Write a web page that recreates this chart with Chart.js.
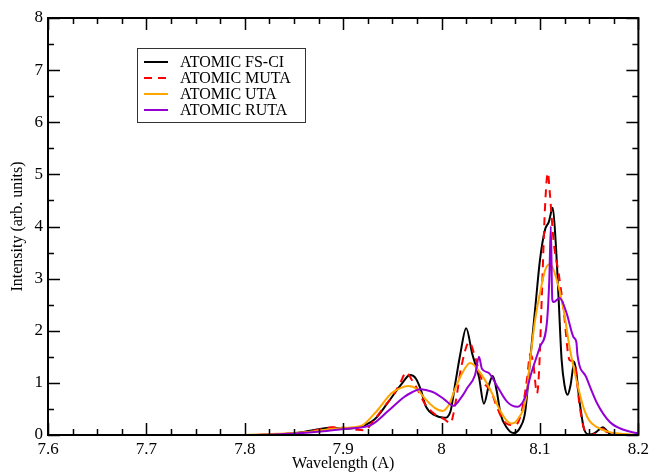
<!DOCTYPE html>
<html>
<head>
<meta charset="utf-8">
<script src="https://cdn.jsdelivr.net/npm/chart.js@4"></script>
<style>
  body { margin: 0; background: #fff; }
</style>
</head>
<body>
<canvas id="spectrumChart" width="653" height="472"></canvas>
<script>
// wavelength (A) / intensity pairs, one pair of arrays per curve
const fsciWl = [7.6, 7.8, 7.84, 7.86, 7.875, 7.888, 7.902, 7.918, 7.932, 7.945, 7.959, 7.968, 7.974, 7.979, 7.984, 7.993, 8.003, 8.009, 8.014, 8.019, 8.025, 8.031, 8.038, 8.043, 8.048, 8.052, 8.056, 8.060, 8.066, 8.073, 8.080, 8.085, 8.090, 8.095, 8.100, 8.105, 8.109, 8.113, 8.116, 8.119, 8.122, 8.125, 8.128, 8.131, 8.135, 8.140, 8.145, 8.150, 8.155, 8.160, 8.164, 8.168, 8.172, 8.2];
const fsciInt = [0, 0, 0.02, 0.06, 0.11, 0.14, 0.12, 0.16, 0.30, 0.61, 0.97, 1.15, 1.08, 0.86, 0.55, 0.38, 0.33, 0.45, 1.00, 1.55, 2.05, 1.57, 1.11, 0.60, 0.95, 1.13, 0.85, 0.40, 0.15, 0.04, 0.15, 0.45, 1.44, 2.40, 3.36, 3.93, 4.09, 4.36, 3.69, 2.59, 1.44, 0.95, 0.77, 0.95, 1.40, 0.67, 0.10, 0.01, 0.03, 0.10, 0.15, 0.08, 0.01, 0];

const mutaWl = [7.6, 7.8, 7.84, 7.86, 7.875, 7.889, 7.905, 7.915, 7.922, 7.930, 7.940, 7.952, 7.958, 7.964, 7.970, 7.976, 7.983, 7.993, 8.003, 8.009, 8.014, 8.020, 8.028, 8.034, 8.040, 8.045, 8.050, 8.056, 8.062, 8.068, 8.073, 8.078, 8.083, 8.087, 8.090, 8.093, 8.097, 8.099, 8.102, 8.105, 8.108, 8.110, 8.114, 8.119, 8.124, 8.130, 8.135, 8.140, 8.145, 8.150, 8.158, 8.164, 8.170, 8.2];
const mutaInt = [0, 0, 0.02, 0.05, 0.10, 0.15, 0.13, 0.10, 0.09, 0.25, 0.50, 0.80, 1.00, 1.20, 1.05, 0.86, 0.60, 0.40, 0.30, 0.23, 0.60, 1.30, 1.78, 1.50, 1.10, 0.95, 0.85, 0.55, 0.30, 0.20, 0.19, 0.25, 0.60, 1.10, 1.55, 1.40, 0.80, 1.20, 2.72, 4.32, 5.03, 4.64, 3.69, 3.10, 2.40, 1.44, 1.40, 0.60, 0.10, 0.00, 0.04, 0.12, 0.02, 0];

const utaWl = [7.6, 7.8, 7.84, 7.865, 7.89, 7.91, 7.92, 7.935, 7.949, 7.958, 7.966, 7.975, 7.983, 7.993, 8.001, 8.008, 8.013, 8.020, 8.029, 8.039, 8.050, 8.060, 8.066, 8.071, 8.077, 8.086, 8.090, 8.095, 8.100, 8.105, 8.110, 8.117, 8.124, 8.130, 8.137, 8.144, 8.150, 8.158, 8.170, 8.185, 8.2];
const utaInt = [0, 0, 0.03, 0.06, 0.12, 0.15, 0.19, 0.48, 0.80, 0.90, 0.94, 0.88, 0.70, 0.52, 0.46, 0.60, 0.85, 1.15, 1.38, 1.20, 0.85, 0.45, 0.28, 0.22, 0.29, 0.74, 1.44, 2.20, 2.72, 3.15, 3.28, 2.98, 2.40, 1.69, 1.06, 0.54, 0.28, 0.15, 0.06, 0.02, 0];

const rutaWl = [7.6, 7.8, 7.85, 7.88, 7.903, 7.928, 7.945, 7.955, 7.962, 7.970, 7.978, 7.985, 7.993, 8.003, 8.012, 8.020, 8.026, 8.034, 8.038, 8.041, 8.048, 8.057, 8.067, 8.077, 8.085, 8.090, 8.100, 8.107, 8.1095, 8.111, 8.1125, 8.114, 8.120, 8.127, 8.134, 8.137, 8.138, 8.147, 8.158, 8.171, 8.185, 8.2];
const rutaInt = [0, 0, 0.03, 0.07, 0.12, 0.19, 0.45, 0.62, 0.73, 0.82, 0.88, 0.86, 0.81, 0.68, 0.56, 0.72, 0.90, 1.15, 1.50, 1.27, 1.19, 0.92, 0.63, 0.54, 0.73, 1.11, 1.69, 2.15, 3.00, 4.00, 2.60, 2.55, 2.63, 2.34, 1.88, 1.78, 1.55, 1.11, 0.61, 0.25, 0.10, 0.03];

const seriesLabels = ['ATOMIC FS-CI', 'ATOMIC MUTA', 'ATOMIC UTA', 'ATOMIC RUTA'];
const seriesColors = ['#000000', '#ff0000', '#ffa500', '#9400d3'];

const xMin = 7.6, xMax = 8.2;
const yMin = 0, yMax = 8;

const serif = 'Liberation Serif, Times New Roman, serif';

function toPoints(wl, val) {
  return wl.map((w, i) => ({ x: w, y: val[i] }));
}

// inward ticks on all four sides plus the box, xmgrace style
const frameTicks = {
  id: 'frameTicks',
  afterDatasetsDraw(chart) {
    const { ctx, chartArea: a, scales: { x, y } } = chart;
    ctx.save();
    ctx.strokeStyle = '#000';
    ctx.lineWidth = 1.5;
    ctx.beginPath();
    for (let i = 0; i <= 24; i++) {
      const px = Math.round(x.getPixelForValue(xMin + i * 0.025)) + 0.5;
      const len = i % 4 === 0 ? 12 : 6;
      ctx.moveTo(px, a.bottom); ctx.lineTo(px, a.bottom - len);
      ctx.moveTo(px, a.top); ctx.lineTo(px, a.top + len);
    }
    for (let i = 0; i <= 16; i++) {
      const py = Math.round(y.getPixelForValue(i * 0.5)) + 0.5;
      const len = i % 2 === 0 ? 12 : 6;
      ctx.moveTo(a.left, py); ctx.lineTo(a.left + len, py);
      ctx.moveTo(a.right, py); ctx.lineTo(a.right - len, py);
    }
    ctx.stroke();
    ctx.lineWidth = 2;
    ctx.strokeRect(a.left, a.top, a.right - a.left, a.bottom - a.top);
    ctx.restore();
  }
};

const boxLegend = {
  id: 'boxLegend',
  afterDraw(chart) {
    const { ctx, chartArea: a } = chart;
    const bx = a.left + 89, by = 48, bw = 168, bh = 74;
    ctx.save();
    ctx.fillStyle = '#fff';
    ctx.fillRect(bx, by, bw, bh);
    ctx.strokeStyle = '#333';
    ctx.lineWidth = 1;
    ctx.strokeRect(bx + 0.5, by + 0.5, bw, bh);
    ctx.font = '16px ' + serif;
    ctx.textBaseline = 'middle';
    chart.data.datasets.forEach((ds, i) => {
      const cy = by + 14 + i * 16;
      ctx.strokeStyle = ds.borderColor;
      ctx.lineWidth = 2;
      ctx.setLineDash(ds.borderDash || []);
      ctx.beginPath();
      ctx.moveTo(bx + 7, cy);
      ctx.lineTo(bx + 31, cy);
      ctx.stroke();
      ctx.setLineDash([]);
      ctx.fillStyle = '#000';
      ctx.fillText(ds.label, bx + 43, cy + 1);
    });
    ctx.restore();
  }
};

const datasets = [
  { label: seriesLabels[0], data: toPoints(fsciWl, fsciInt), borderColor: seriesColors[0], order: 4 },
  { label: seriesLabels[1], data: toPoints(mutaWl, mutaInt), borderColor: seriesColors[1], borderDash: [8, 6], order: 3 },
  { label: seriesLabels[2], data: toPoints(utaWl, utaInt), borderColor: seriesColors[2], order: 2 },
  { label: seriesLabels[3], data: toPoints(rutaWl, rutaInt), borderColor: seriesColors[3], order: 1 }
].map(ds => Object.assign({
  borderWidth: 2,
  pointRadius: 0,
  fill: false,
  cubicInterpolationMode: 'monotone'
}, ds));

const ctx = document.getElementById('spectrumChart').getContext('2d');
new Chart(ctx, {
  type: 'line',
  data: { datasets },
  options: {
    responsive: false,
    animation: false,
    layout: { padding: { top: 18, right: 11, left: 0, bottom: 0 } },
    plugins: {
      legend: { display: false },
      tooltip: { enabled: false }
    },
    scales: {
      x: {
        type: 'linear',
        min: xMin,
        max: xMax,
        grid: { display: false, drawTicks: false },
        border: { display: false },
        ticks: {
          stepSize: 0.1,
          padding: 4,
          color: '#000',
          font: { family: serif, size: 17 },
          callback: v => String(Number(v.toFixed(1)))
        },
        title: {
          display: true,
          text: 'Wavelength (A)',
          color: '#000',
          font: { family: serif, size: 16, lineHeight: 1 },
          padding: { top: 0, bottom: 0 }
        },
        afterFit: s => { s.height = 37; }
      },
      y: {
        min: yMin,
        max: yMax,
        grid: { display: false, drawTicks: false },
        border: { display: false },
        ticks: {
          stepSize: 1,
          padding: 5,
          color: '#000',
          font: { family: serif, size: 17 }
        },
        title: {
          display: true,
          text: 'Intensity (arb. units)',
          color: '#000',
          font: { family: serif, size: 16, lineHeight: 1 },
          padding: { top: 10, bottom: 0 }
        },
        afterFit: s => { s.width = 48; }
      }
    }
  },
  plugins: [frameTicks, boxLegend]
});
</script>
</body>
</html>
